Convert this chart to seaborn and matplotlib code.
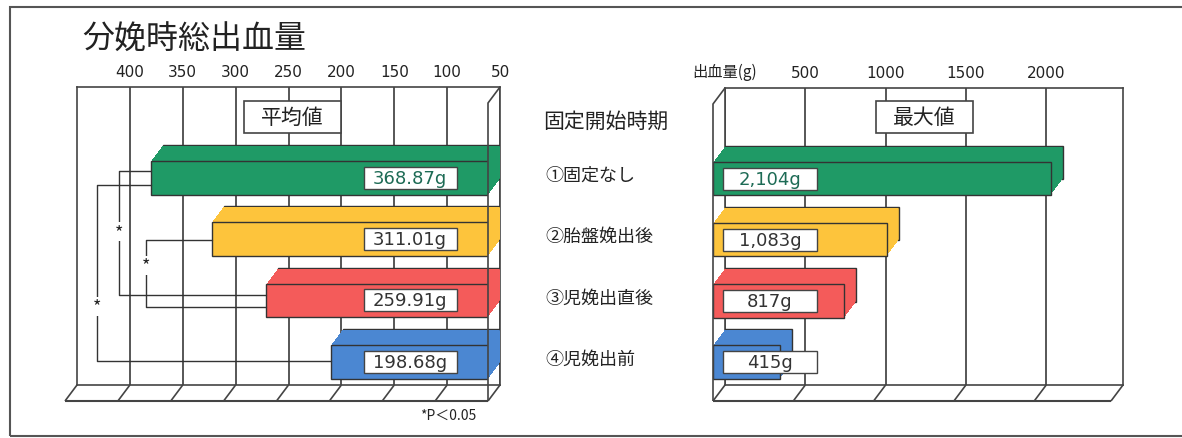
import numpy as np
import pandas as pd
import seaborn as sns
import matplotlib
matplotlib.use("Agg")
import matplotlib.pyplot as plt
from matplotlib.transforms import ScaledTranslation, blended_transform_factory, IdentityTransform
from matplotlib.patches import Rectangle
from matplotlib.lines import Line2D

# ---------------- data ----------------
categories = ["①固定なし", "②胎盤娩出後", "③児娩出直後", "④児娩出前"]
mean_values = [368.87, 311.01, 259.91, 198.68]
max_values = [2104, 1083, 817, 415]
mean_labels = ["368.87g", "311.01g", "259.91g", "198.68g"]
max_labels = ["2,104g", "1,083g", "817g", "415g"]
bar_colors = ["#1f9a66", "#fdc43c", "#f45b5a", "#4b87d2"]
label_colors = ["#1d6b55", "#333333", "#333333", "#333333"]
left_ticks = [400, 350, 300, 250, 200, 150, 100, 50]
right_ticks = [0, 500, 1000, 1500, 2000]
right_tick_labels = ["出血量(g)", "500", "1000", "1500", "2000"]
sig_pairs = [(0, 2), (1, 2), (0, 3)]

# ---------------- layout constants ----------------
sig_x = [399, 373, 420]                      # bracket x (left axis units)
sig_yoff = [(-0.11, -0.09), (0.01, 0.10), (0.11, -0.02)]
sig_star_y = [0.88, 1.43, 2.10]

sns.set_theme(style="white")
plt.rcParams['font.family'] = ['Noto Sans CJK JP', 'DejaVu Sans']

W, H = 1182, 439
fig = plt.figure(figsize=(W / 100, H / 100), dpi=100)
fig.patch.set_facecolor("white")

def px_axes(x0, y0, x1, y1):
    return fig.add_axes([x0 / W, 1 - y1 / H, (x1 - x0) / W, (y1 - y0) / H])

axL = px_axes(77, 88, 500, 386)
axR = px_axes(725, 89, 1123, 386)

DX, DY = 12, 16
NSTEP = 16

def shift(k):
    return ScaledTranslation(-DX * k / 100, -DY * k / 100, fig.dpi_scale_trans)

front = shift(1.0)

df = pd.DataFrame({"cat": categories, "mean": mean_values, "max": max_values})
EDGE = "#333333"

def draw_bars(ax, col):
    sns.barplot(data=df, x=col, y="cat", hue="cat", palette=bar_colors, legend=False,
                orient="h", width=0.55, saturation=1, ax=ax,
                edgecolor=EDGE, linewidth=1.0, zorder=3)
    back = list(ax.patches)
    n0 = len(ax.patches)
    sns.barplot(data=df, x=col, y="cat", hue="cat", palette=bar_colors, legend=False,
                orient="h", width=0.55, saturation=1, ax=ax,
                edgecolor=EDGE, linewidth=1.0, zorder=4)
    clip = Rectangle((0, 0), 1, 1, transform=ax.transAxes + front)
    for p in ax.patches[n0:]:
        p.set_transform(ax.transData + front)
        p.set_clip_path(clip)
        p.set_zorder(4)
    # solid extrusion between back and front faces
    for k in range(1, NSTEP):
        off = shift(k / NSTEP)
        kclip = Rectangle((0, 0), 1, 1, transform=ax.transAxes + off)
        for p in back:
            r = Rectangle((p.get_x(), p.get_y()), p.get_width(), p.get_height(),
                          transform=ax.transData + off, facecolor=p.get_facecolor(),
                          edgecolor="none", zorder=3.5)
            ax.add_artist(r)
            r.set_clip_path(kclip)

draw_bars(axL, "mean")
draw_bars(axR, "max")

YLIM = (3.64, -1.22)
axL.set_xlim(450, 50)
axR.set_xlim(0, 2478)
for ax in (axL, axR):
    ax.set_ylim(*YLIM)
    ax.set_yticks([])
    ax.set_xlabel("")
    ax.set_ylabel("")
    ax.xaxis.tick_top()
    ax.tick_params(axis="x", length=0, pad=6, labelsize=11, colors="#222222")
    ax.grid(axis="x", color="#3a3a3a", lw=1.2)
    ax.grid(axis="y", visible=False)
    ax.set_axisbelow(True)
    ax.set_facecolor("white")
    for s in ax.spines.values():
        s.set_visible(True)
        s.set_color("#444444")
        s.set_linewidth(1.2)

axL.set_xticks(left_ticks)
axL.set_xticklabels([str(t) for t in left_ticks], family="DejaVu Sans", fontsize=11)
axR.set_xticks(right_ticks)
axR.set_xticklabels(right_tick_labels, family=["Noto Sans CJK JP", "DejaVu Sans"], fontsize=11)
for t in axR.get_xticklabels()[1:]:
    t.set_family("DejaVu Sans")

fig.canvas.draw()

# ---------------- 3D frame decoration (pixel coords) ----------------
def line_px(xs, ys, lw=1.2, color="#444444"):
    fig.add_artist(Line2D(xs, ys, transform=IdentityTransform(), color=color, lw=lw,
                          solid_capstyle="butt", zorder=2))

def floor(ax, xs_data):
    y0 = ax.transAxes.transform((0, 0))[1]
    xl = ax.transAxes.transform((0, 0))[0]
    xr = ax.transAxes.transform((1, 0))[0]
    line_px([xl - DX, xr - DX], [y0 - DY, y0 - DY], lw=1.5)
    for xd in xs_data:
        xp = ax.transData.transform((xd, 0))[0]
        line_px([xp, xp - DX], [y0, y0 - DY])

floor(axL, [450] + left_ticks)
floor(axR, right_ticks + [2478])

# left panel: right side wall
xr = axL.transAxes.transform((1, 0))[0]
yb = axL.transAxes.transform((1, 0))[1]
yt = axL.transAxes.transform((1, 1))[1]
line_px([xr - DX, xr - DX, xr], [yb - DY, yt - DY, yt])
# right panel: left side wall
xl = axR.transAxes.transform((0, 0))[0]
yb = axR.transAxes.transform((0, 0))[1]
yt = axR.transAxes.transform((0, 1))[1]
line_px([xl - DX, xl - DX, xl], [yb - DY, yt - DY, yt])

# ---------------- value labels ----------------
def value_boxes(ax, labels, xc, bw):
    tr = blended_transform_factory(ax.transAxes, ax.transData) + front
    bh = 0.36
    for i, (lab, c) in enumerate(zip(labels, label_colors)):
        ax.add_patch(Rectangle((xc - bw / 2, i - bh / 2), bw, bh, transform=tr,
                               facecolor="white", edgecolor="#444444", lw=1.0,
                               zorder=6, clip_on=False))
        ax.text(xc, i, lab, transform=tr, ha="center", va="center", fontsize=13,
                family="DejaVu Sans", color=c, zorder=7, clip_on=False)

value_boxes(axL, mean_labels, 0.816, 0.22)
value_boxes(axR, max_labels, 0.143, 0.236)

# ---------------- significance brackets ----------------
trL = axL.transData + front
for (a, b), bx, (oa, ob), sy in zip(sig_pairs, sig_x, sig_yoff, sig_star_y):
    ya, yb2 = a + oa, b + ob
    axL.add_line(Line2D([mean_values[a], bx, bx, mean_values[b]], [ya, ya, yb2, yb2],
                        transform=trL, color="#333333", lw=1.0, zorder=5, clip_on=False))
    axL.text(bx, sy, "*", transform=trL, ha="center", va="center", fontsize=13,
             color="#222222", zorder=6, clip_on=False,
             bbox=dict(boxstyle="square,pad=0.02", fc="white", ec="none"))

# ---------------- category labels in the middle ----------------
trC = (blended_transform_factory(fig.transFigure, axL.transData)
       + ScaledTranslation(0, -0.13, fig.dpi_scale_trans))
for i, c in enumerate(categories):
    fig.text(545 / W, i, c, transform=trC, ha="left", va="center",
             fontsize=13, color="#222222")
fig.text(543 / W, 1 - 122 / H, "固定開始時期", ha="left", va="center", fontsize=15,
         color="#222222")

# ---------------- panel titles ----------------
def titled_box(cx, cy, w, h, s):
    fig.add_artist(Rectangle(((cx - w / 2) / W, 1 - (cy + h / 2) / H), w / W, h / H,
                             transform=fig.transFigure, facecolor="white",
                             edgecolor="#444444", lw=1.2, zorder=5))
    fig.text(cx / W, 1 - cy / H, s, ha="center", va="center", fontsize=15,
             color="#222222", zorder=6)

titled_box(292, 118, 97, 32, "平均値")
titled_box(924, 118, 97, 32, "最大値")

# ---------------- title, note, frame ----------------
fig.text(82 / W, 1 - 40 / H, "分娩時総出血量", ha="left", va="center", fontsize=23,
         color="#222222")
fig.text(420 / W, 1 - 416 / H, "*P＜0.05", ha="left", va="center", fontsize=10,
         color="#222222")
fig.add_artist(Rectangle((10 / W, 1 - 437 / H), 1200 / W, (437 - 8) / H,
                         transform=fig.transFigure, fill=False, edgecolor="#555555",
                         lw=1.5))

fig.savefig("out.png", dpi=100, facecolor="white")
